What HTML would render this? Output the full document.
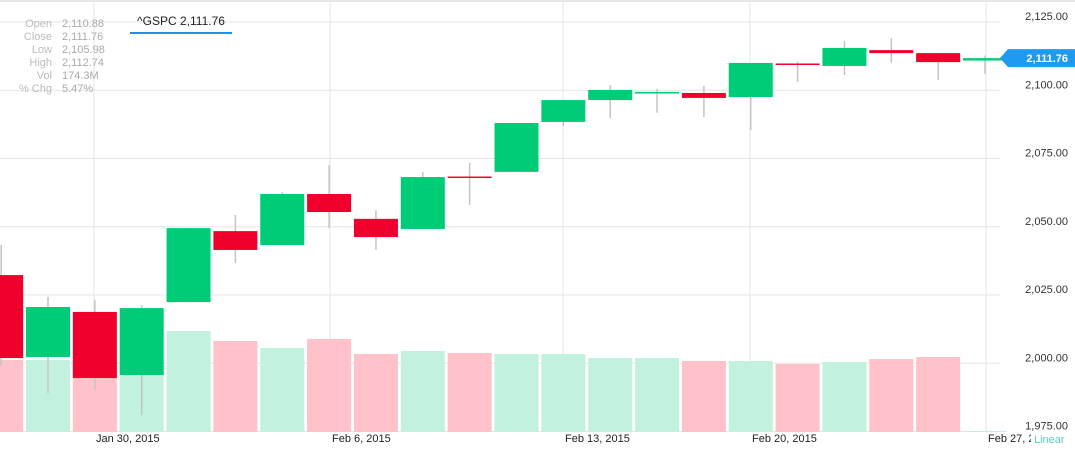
<!DOCTYPE html>
<html><head><meta charset="utf-8"><style>
body{margin:0;background:#fff;font-family:"Liberation Sans",sans-serif;}
#wrap{position:relative;width:1075px;height:452px;overflow:hidden;}
.info{position:absolute;left:0;top:18px;font-size:11px;color:#bbb;line-height:13px;}
.info div{display:flex}
.info .k{width:52px;text-align:right;padding-right:10px}
.info .v{color:#aaa}
.tag{position:absolute;left:130px;top:10px;width:102px;height:24px;font-size:12px;color:#222;text-align:center;line-height:22px;border-bottom:2px solid #1e90e8;box-sizing:border-box}
</style></head><body>
<div id="wrap">
<svg id="chart" width="1075" height="452" style="position:absolute;left:0;top:0"></svg>
<div class="info">
<div><span class="k">Open</span><span class="v">2,110.88</span></div>
<div><span class="k">Close</span><span class="v">2,111.76</span></div>
<div><span class="k">Low</span><span class="v">2,105.98</span></div>
<div><span class="k">High</span><span class="v">2,112.74</span></div>
<div><span class="k">Vol</span><span class="v">174.3M</span></div>
<div><span class="k">% Chg</span><span class="v">5.47%</span></div>
</div>
<div class="tag">^GSPC 2,111.76</div>
</div>
<script>
const opens =  [2032.3,2002.3,2018.8,1995.7,2022.4,2048.4,2043.3,2062.0,2052.9,2049.2,2068.4,2070.1,2088.4,2096.4,2098.8,2099.0,2097.5,2109.8,2108.9,2114.7,2113.6,2110.88];
const closes = [2001.9,2020.6,1994.6,2020.2,2049.5,2041.5,2062.0,2055.4,2046.2,2068.2,2068.0,2088.0,2096.4,2100.1,2099.4,2097.2,2110.0,2109.4,2115.5,2113.6,2110.3,2111.76];
const highs =  [2043.3,2024.3,2023.2,2021.3,2049.5,2054.3,2062.7,2072.6,2056.1,2070.1,2073.4,2088.0,2096.4,2101.9,2100.5,2101.6,2110.0,2110.5,2118.0,2119.1,2113.6,2112.74];
const lows =   [1999.0,1989.1,1990.0,1981.0,2022.4,2036.7,2043.3,2049.5,2041.5,2049.2,2058.0,2070.1,2086.9,2089.8,2091.7,2090.2,2085.4,2103.0,2105.6,2110.0,2103.8,2105.98];
const volumes = [288,288,288,288,404,364,336,372,312,324,316,312,312,296,296,284,284,272,280,292,300,4];
const priceTicks = [2125,2100,2075,2050,2025,2000,1975];
const priceTickLabels = ["2,125.00","2,100.00","2,075.00","2,050.00","2,025.00","2,000.00","1,975.00"];
const dateTickLabels = ["Jan 30, 2015","Feb 6, 2015","Feb 13, 2015","Feb 20, 2015","Feb 27, 2015"];
const lastPrice = 2111.76;

const svg = document.getElementById('chart');
const NS = 'http://www.w3.org/2000/svg';
function yP(v){return 22 + (2125 - v) * 2.73;}
function xC(i){return 1.15 + i * 46.85;}
const volBase = 432, volScale = 0.25;
function yV(v){return volBase - v * volScale;}
function mk(tag, attrs, parent){const e=document.createElementNS(NS,tag);for(const k in attrs)e.setAttribute(k,attrs[k]);(parent||svg).appendChild(e);return e;}

let b = mk('line',{x1:0,y1:1,x2:1075,y2:1,stroke:'#ccc','stroke-width':1});


priceTicks.forEach((t,k)=>{
  const y = yP(t);
  const g = mk('line',{x1:0,y1:y,x2:1000,y2:y,stroke:'#e6e6e6','stroke-width':1});
  
  
  const tx = mk('text',{x:1068,y:y-2,'text-anchor':'end','font-size':11,fill:'#333','font-family':'Liberation Sans, sans-serif'});
  tx.textContent = priceTickLabels[k];
  
  
});
dateTickLabels.forEach((lab,k)=>{
  const vx = [94,330,563,750,986][k];
  const g = mk('line',{x1:vx,y1:0,x2:vx,y2:432,stroke:'#e6e6e6','stroke-width':1});
  
  
  const tx = mk('text',{x:vx+2,y:442,'font-size':11,fill:'#222','font-family':'Liberation Sans, sans-serif'});
  tx.textContent = lab;
  
  
});
volumes.forEach((v,i)=>{
  const up = closes[i] >= opens[i];
  const r = mk('rect',{x:xC(i)-22,y:yV(v),width:44,height:v*volScale,fill:up?'#c2f1dd':'#ffc1ca'});
  
  
});
opens.forEach((o,i)=>{
  const c = closes[i], up = c >= o, x = xC(i);
  const w = mk('line',{x1:x,y1:yP(highs[i]),x2:x,y2:yP(lows[i]),stroke:'#c4c4c4','stroke-width':1.5});
  
  
  const top = yP(Math.max(o,c)), h = Math.max(1.5, Math.abs(yP(o)-yP(c)));
  const r = mk('rect',{x:x-22,y:top,width:44,height:h,fill:up?'#00cc77':'#f0002c'});
  
  
});
const mask = mk('rect',{x:1031,y:434,width:44,height:18,fill:'#fff'});


const lin = mk('text',{x:1034,y:443,'font-size':11,fill:'#5bd0c0','font-family':'Liberation Sans, sans-serif'});
lin.textContent = 'Linear';


const py = yP(lastPrice);
const tag = mk('path',{d:`M1000 ${py} L1008 ${py-9} L1075 ${py-9} L1075 ${py+9} L1008 ${py+9} Z`,fill:'#1e9af0'});


const tt = mk('text',{x:1068,y:py+4,'text-anchor':'end','font-size':11,'font-weight':'bold',fill:'#fff','font-family':'Liberation Sans, sans-serif'});
tt.textContent = '2,111.76';


</script>
</body></html>
